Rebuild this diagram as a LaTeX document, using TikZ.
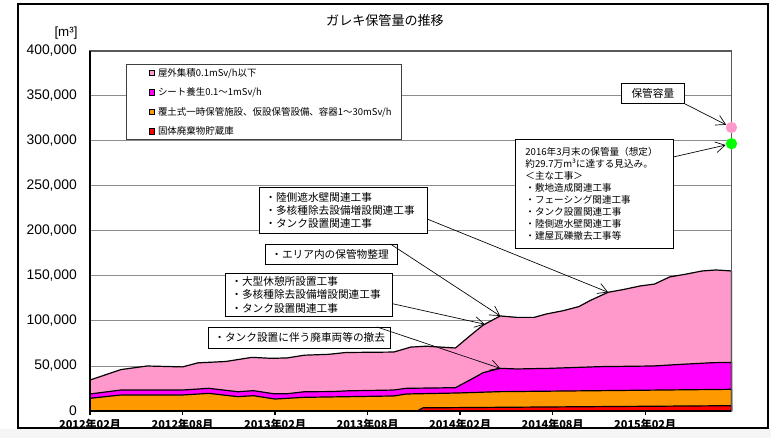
\documentclass[tikz,border=0pt]{standalone}
\usepackage{fontspec}
\setmainfont{Liberation Sans}
\newfontfamily\jp{Noto Sans CJK JP}
\usetikzlibrary{positioning,arrows.meta}

\definecolor{pinkA}{HTML}{FF99CC}
\definecolor{magA}{HTML}{FF00FF}
\definecolor{orangeA}{HTML}{FF9900}
\definecolor{redA}{HTML}{FF0000}
\definecolor{greenA}{HTML}{00FF00}
\definecolor{gridgray}{HTML}{8C8C8C}

\tikzset{
  gridln/.style={draw=gridgray, line width=0.75pt},
  plotframe/.style={draw=black!65, line width=0.9pt},
  area/.style={draw=black, line width=0.9pt, line join=round},
  ylab/.style={anchor=east, inner sep=0pt, font=\fontsize{10.4pt}{12pt}\selectfont},
  xlab/.style={inner sep=0pt, font=\jp\bfseries\fontsize{8.2pt}{10pt}\selectfont},
  legkey/.style={draw=black, line width=0.6pt, minimum size=4pt, inner sep=0pt},
  legtext/.style={inner sep=0pt, font=\jp\fontsize{7.1pt}{9pt}\selectfont},
  note/.style={draw=black, line width=0.6pt, fill=white, anchor=north west, align=left,
    inner xsep=4.5pt, inner ysep=0pt, font=\jp\fontsize{8pt}{10pt}\selectfont},
  callout/.style={-{Straight Barb[length=7pt,width=8pt]}, line width=0.5pt},
  capdot/.style={circle, minimum size=8.5pt, inner sep=0pt},
}

\begin{document}
\begin{tikzpicture}[x=0.75pt,y=-0.75pt]
  \useasboundingbox (0,0) rectangle (771,438);
  \fill[white] (0,0) rectangle (771,438);
  \fill[gray!8] (0,429) rectangle (771,438);
  \draw[line width=0.8pt] (18,4) rectangle (768,428);

  \node[font=\jp\fontsize{9.8pt}{12pt}\selectfont] (title) at (385,21) {ガレキ保管量の推移};
  \node[font=\fontsize{10pt}{12pt}\selectfont] (unit) at (66,33) {[m³]};

  %y axis
  \node[ylab] (y400) at (77,51) {400,000};
  \node[ylab] (y350) at (77,96) {350,000};
  \node[ylab] (y300) at (77,141) {300,000};
  \node[ylab] (y250) at (77,186) {250,000};
  \node[ylab] (y200) at (77,231) {200,000};
  \node[ylab] (y150) at (77,276) {150,000};
  \node[ylab] (y100) at (77,321) {100,000};
  \node[ylab] (y50) at (77,366) {50,000};
  \node[ylab] (y0) at (77,411) {0};

  \begin{scope}[shift={(90,411)}, x=11.565pt, y=0.675pt]
    %grid
    \draw[gridln] (0,50) -- (41.6,50) (0,100) -- (41.6,100) (0,150) -- (41.6,150)
      (0,200) -- (41.6,200) (0,250) -- (41.6,250) (0,300) -- (41.6,300) (0,350) -- (41.6,350);

    %stacked areas
    \filldraw[area, fill=pinkA] (0,0) -- (0,34.4) -- (2,46) -- (3.7,50) -- (6,49) -- (7,53.5)
      -- (8.8,55) -- (10.5,59.6) -- (11.8,58.5) -- (12.8,59) -- (13.9,62) -- (15.5,63)
      -- (16.6,65) -- (19.7,65.5) -- (20.8,71) -- (21.8,72) -- (23.7,70) -- (24.7,84.4)
      -- (25.5,95.5) -- (26.6,105.6) -- (27.7,104) -- (28.8,104) -- (29.6,107.8)
      -- (30.7,111.5) -- (31.7,116) -- (32.5,123.3) -- (33.6,131.9) -- (34.6,135)
      -- (35.7,139) -- (36.6,141) -- (37.6,149) -- (38.6,151.9) -- (39.7,155.6)
      -- (40.6,156.7) -- (41.6,155.6) -- (41.6,0) -- cycle;
    \filldraw[area, fill=magA] (0,0) -- (0,18.9) -- (2,23.3) -- (6,23.3) -- (7.7,25.2)
      -- (9.6,21.4) -- (10.6,22.6) -- (11.9,19.2) -- (12.8,19.2) -- (13.9,21.4)
      -- (15.7,21.6) -- (16.7,22.4) -- (19.7,23.3) -- (20.5,25.2) -- (23.7,25.9)
      -- (24.7,35) -- (25.5,42.6) -- (26.6,47.4) -- (27.7,46.7) -- (29.8,47.4)
      -- (33.1,49.3) -- (36.5,50) -- (38.4,51.9) -- (40.4,53.7) -- (41.6,54) -- (41.6,0) -- cycle;
    \filldraw[area, fill=orangeA] (0,0) -- (0,14.1) -- (2,17.8) -- (6,17.8) -- (7.7,19.6)
      -- (9.6,15.9) -- (10.6,17) -- (12,13.3) -- (13.9,15.2) -- (16.7,15.9) -- (19.7,16.7)
      -- (20.5,18.9) -- (23.8,20) -- (26.6,21.5) -- (33.1,22.6) -- (41.6,24.1) -- (41.6,0) -- cycle;
    \filldraw[area, fill=redA] (21.2,0) -- (21.6,3.5) -- (41.6,5.9) -- (41.6,0) -- cycle;

    %axes
    \draw[plotframe] (0,0) rectangle (41.6,400);
    \draw[line width=0.9pt] (0,0) -- (0,400);
    \draw[line width=2.2pt] (0,0) -- (41.6,0);
    \draw[line width=0.9pt] (0,0) -- (0,-4) (6,0) -- (6,-4) (12,0) -- (12,-4) (18,0) -- (18,-4)
      (24,0) -- (24,-4) (30,0) -- (30,-4) (36,0) -- (36,-4);

    \node[xlab] (d1) at (0,-14.4) {2012年02月};
    \node[xlab] (d2) at (6,-14.4) {2012年08月};
    \node[xlab] (d3) at (12,-14.4) {2013年02月};
    \node[xlab] (d4) at (18,-14.4) {2013年08月};
    \node[xlab] (d5) at (24,-14.4) {2014年02月};
    \node[xlab] (d6) at (30,-14.4) {2014年08月};
    \node[xlab] (d7) at (36,-14.4) {2015年02月};

    \coordinate (tipA) at (33.6,131.9);
    \coordinate (tipB) at (26.6,105.6);
    \coordinate (tipC) at (25.6,96.4);
    \coordinate (tipD) at (26.6,47.4);

    \node[capdot, fill=pinkA] (capmark) at (41.6,315) {};
    \node[capdot, fill=greenA] (estmark) at (41.6,297) {};
  \end{scope}

  %legend
  \node[draw=black!75, line width=0.75pt, fill=white, anchor=north west,
    minimum width=206.25pt, minimum height=56.25pt] (legend) at (126,64) {};
  \node[legkey, fill=pinkA] (key1) at (152,73) {};
  \node[legtext, right=2pt of key1] (leg1) {屋外集積0.1mSv/h以下};
  \node[legkey, fill=magA, below=10pt of key1] (key2) {};
  \node[legtext, right=2pt of key2] (leg2) {シート養生0.1～1mSv/h};
  \node[legkey, fill=orangeA, below=10pt of key2] (key3) {};
  \node[legtext, right=2pt of key3] (leg3) {覆土式一時保管施設、仮設保管設備、容器1～30mSv/h};
  \node[legkey, fill=redA, below=10pt of key3] (key4) {};
  \node[legtext, right=2pt of key4] (leg4) {固体廃棄物貯蔵庫};

  %notes
  \node[note, text width=117pt, minimum height=34.5pt] (noteA) at (259,187)
    {・陸側遮水壁関連工事\\・多核種除去設備増設関連工事\\・タンク設置関連工事};
  \node[note, text width=90pt, minimum height=15pt] (noteB) at (265,244) {・エリア内の保管物整理};
  \node[note, text width=116pt, minimum height=32.25pt] (noteC) at (225,273)
    {・大型休憩所設置工事\\・多核種除去設備増設関連工事\\・タンク設置関連工事};
  \node[note, text width=127.5pt, minimum height=15.75pt] (noteD) at (208,327) {・タンク設置に伴う廃車両等の撤去};
  \node[note, align=center, minimum width=47.25pt, minimum height=15pt] (noteE) at (621,83) {保管容量};
  \node[note, text width=103.5pt, inner xsep=7.5pt, minimum height=81.75pt,
    font=\jp\fontsize{7.2pt}{9pt}\selectfont] (noteF) at (515,139)
    {2016年3月末の保管量（想定）\\約29.7万m³に達する見込み。\\＜主な工事＞\\・敷地造成関連工事\\・フェーシング関連工事\\・タンク設置関連工事\\・陸側遮水壁関連工事\\・建屋瓦礫撤去工事等};

  %notes>chart
  \draw[callout] (noteA.-6) -- (tipA);
  \draw[callout] (noteB.10) -- (tipB);
  \draw[callout] (noteC.-6) -- (tipC);
  \draw[callout] (noteD.8) -- (tipD);
  \draw[callout] (noteE.south east) -- (capmark);
  \draw[callout] (noteF.25) -- (estmark);
\end{tikzpicture}
\end{document}
